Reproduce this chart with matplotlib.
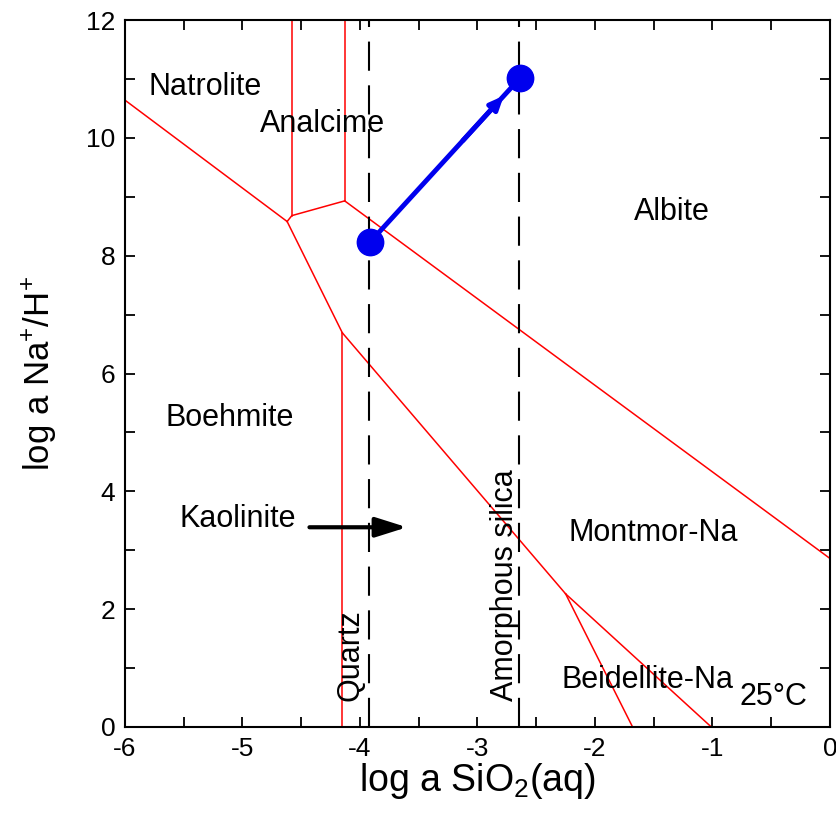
import matplotlib
matplotlib.use("Agg")
import matplotlib.pyplot as plt
from matplotlib.ticker import MultipleLocator

plt.rcParams['font.family'] = ['Liberation Sans', 'DejaVu Sans']
plt.rcParams['axes.unicode_minus'] = False
plt.rcParams['mathtext.fontset'] = 'custom'
plt.rcParams['mathtext.rm'] = 'Liberation Sans'

# phase boundaries (log a SiO2, log a Na+/H+)
natrolite_boehmite = ([-6.0, -4.62], [10.64, 8.58])
natrolite_analcime = ([-4.58, -4.58], [8.68, 12.0])
analcime_boehmite = ([-4.62, -4.58, -4.13], [8.58, 8.68, 8.93])
analcime_albite = ([-4.13, -4.13], [8.93, 12.0])
albite_montmor = ([-4.13, 0.0], [8.93, 2.86])
boehmite_analcime2 = ([-4.62, -4.15], [8.58, 6.69])
boehmite_kaolinite = ([-4.15, -4.15], [0.0, 6.69])
kaolinite_montmor = ([-4.15, -2.25], [6.69, 2.26])
kaolinite_beidellite = ([-2.25, -1.68], [2.26, 0.0])
beidellite_montmor = ([-2.25, -1.01], [2.26, 0.0])
boundaries = [natrolite_boehmite, natrolite_analcime, analcime_boehmite,
              analcime_albite, albite_montmor, boehmite_analcime2,
              boehmite_kaolinite, kaolinite_montmor, kaolinite_beidellite,
              beidellite_montmor]

# silica saturation
quartz_x = -3.92
amorphous_x = -2.65

# reaction path
path_x = [-3.915, -2.64]
path_y = [8.23, 11.01]

# kaolinite shift arrow
kao_arrow_x = [-4.43, -3.6]
kao_arrow_y = [3.39, 3.39]

field_names = ['Natrolite', 'Analcime', 'Albite', 'Boehmite', 'Kaolinite',
               'Montmor-Na', 'Beidellite-Na', '25°C']
field_x = [-5.32, -4.32, -1.345, -5.106, -5.04, -1.506, -1.55, -0.485]
field_y = [10.86, 10.23, 8.74, 5.24, 3.53, 3.29, 0.80, 0.51]

fig = plt.figure(figsize=(8.36, 8.14), dpi=100)
ax = fig.add_axes([0.1495, 0.1069, 0.8433, 0.8685])

for bx, by in boundaries:
    ax.plot(bx, by, color='red', lw=1.1)

for xv in [quartz_x, amorphous_x]:
    ax.plot([xv, xv], [0, 12], color='black', lw=1.5, dashes=(14, 7))

ax.text(-4.08, 1.22, 'Quartz', rotation=90, ha='center', va='center', fontsize=22)
ax.text(-2.77, 2.41, 'Amorphous silica', rotation=90, ha='center', va='center', fontsize=22)

# blue path
ax.plot(path_x, path_y, color='#0000ee', lw=3.5)
ax.annotate('', xy=(path_x[1] - 0.12, path_y[1] - 0.26), xytext=(path_x[1] - 0.5, path_y[1] - 1.09),
            arrowprops=dict(arrowstyle='-|>,head_length=0.8,head_width=0.35', color='#0000ee', lw=3.5))
ax.plot(path_x, path_y, 'o', color='#0000ee', ms=19)

# black arrow
ax.annotate('', xy=(kao_arrow_x[1], kao_arrow_y[1]), xytext=(kao_arrow_x[0], kao_arrow_y[0]),
            arrowprops=dict(arrowstyle='-|>,head_length=1.9,head_width=0.6', color='black', lw=3,
                            shrinkA=0, shrinkB=0))

for name, tx, ty in zip(field_names, field_x, field_y):
    ax.text(tx, ty, name, ha='center', va='center', fontsize=22)

ax.set_xlim(-6, 0)
ax.set_ylim(0, 12)
ax.xaxis.set_major_locator(MultipleLocator(1))
ax.xaxis.set_minor_locator(MultipleLocator(0.5))
ax.yaxis.set_major_locator(MultipleLocator(2))
ax.yaxis.set_minor_locator(MultipleLocator(1))
ax.tick_params(which='both', direction='in', top=True, right=True, length=7, width=1.3)
ax.tick_params(axis='x', labelsize=19, pad=7)
ax.tick_params(axis='y', labelsize=19, pad=7)
for s in ax.spines.values():
    s.set_linewidth(1.5)

ax.set_xlabel('log a SiO$_2$(aq)', fontsize=27, labelpad=0)
ax.set_ylabel('log a Na$^{+}$/H$^{+}$', fontsize=25, labelpad=20)

fig.savefig('out.png', dpi=100)
